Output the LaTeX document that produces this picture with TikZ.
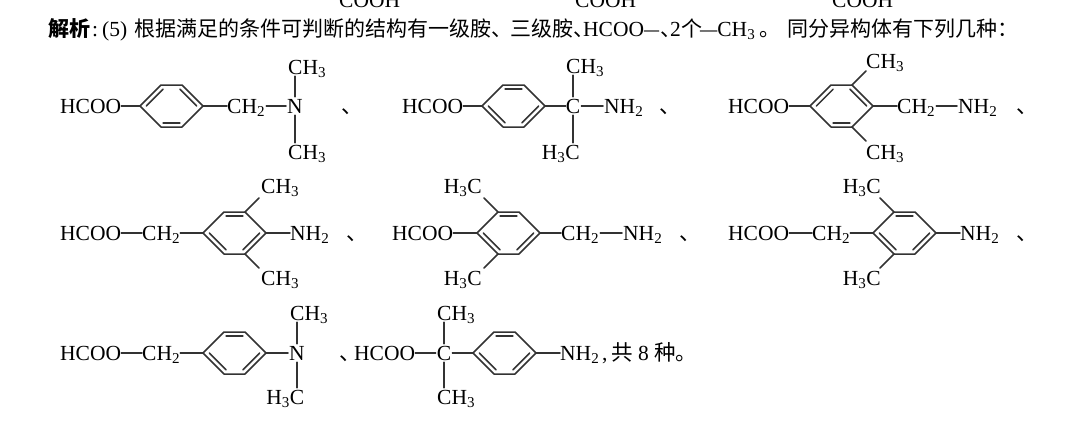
\documentclass[tikz,border=0pt]{standalone}
\usepackage{fontspec}
\setmainfont{Liberation Serif}
\newfontfamily\cjk{Noto Sans CJK SC}
\usetikzlibrary{calc}
\newcommand{\chemf}{\fontsize{21.5}{26}\selectfont}
\newcommand{\benzring}[3]{%
  \coordinate (#1L) at (#2,#3);
  \coordinate (#1TL) at (#2+21,#3-21);
  \coordinate (#1TR) at (#2+42,#3-21);
  \coordinate (#1R) at (#2+63,#3);
  \coordinate (#1BR) at (#2+42,#3+21);
  \coordinate (#1BL) at (#2+21,#3+21);
  \coordinate (#1ctr) at (#2+31.5,#3);
  \draw[bond] (#1L) -- (#1TL) -- (#1TR) -- (#1R) -- (#1BR) -- (#1BL) -- cycle;}
\newcommand{\innerbond}[3]{\draw[bond] ($(#1ctr)!0.8!(#1#2)$) -- ($(#1ctr)!0.8!(#1#3)$);}
\newcommand{\kekA}[1]{\innerbond{#1}{L}{TL}\innerbond{#1}{TR}{R}\innerbond{#1}{BR}{BL}}
\newcommand{\kekB}[1]{\innerbond{#1}{TL}{TR}\innerbond{#1}{BL}{L}\innerbond{#1}{BR}{R}}
\begin{document}
\begin{tikzpicture}[x=1pt,y=-1pt,
  bond/.style={line width=1.5pt, draw=black!80, line join=round, line cap=round},
  vb/.style={bond, shorten <=2pt, shorten >=2pt},
  atom/.style={inner sep=0pt, text height=14pt, text depth=0pt, font=\chemf},
  txt/.style={inner sep=0pt, anchor=base west, font=\chemf},
  cjkt/.style={inner sep=0pt, anchor=base west, font=\fontsize{21}{26}\selectfont\cjk}]
\useasboundingbox (0,0) rectangle (1068,439);
\fill[white] (0,0) rectangle (1068,439);
% cut-off text at the top edge
\node[txt] (cut1) at (339,7) {COOH};
\node[txt] (cut2) at (575,7) {COOH};
\node[txt] (cut3) at (832,7) {COOH};
% heading line
\node[cjkt] (t1) at (48,36) {\bfseries 解析};
\node[txt] (t2) at (92,36) {:};
\node[txt] (t3) at (102,36) {(5)};
\node[cjkt] (t4) at (134,36) {根据满足的条件可判断的结构有一级胺、};
\node[cjkt] (t4b) at (510,36) {三级胺、};
\node[txt] (t5) at (583,36) {HCOO\scalebox{0.7}[1]{—}};
\node[cjkt] (t6) at (660,36) {、};
\node[txt] (t7) at (670,36) {2};
\node[cjkt] (t8) at (681,36) {个};
\node[txt] (t9) at (700,36) {\scalebox{0.8}[1]{—}CH\textsubscript{3}};
\node[cjkt] (t10) at (759,36) {。};
\node[cjkt] (t11) at (787,36) {同分异构体有下列几种：};
% ---------- row 1 ----------
% S1
\node[atom,anchor=west] (h1) at (60,106) {HCOO};
\benzring{a}{140}{106}\kekA{a}
\draw[bond] (h1.east) -- (aL);
\node[atom,anchor=west] (a2) at (227,106) {CH\textsubscript{2}};
\draw[bond] (aR) -- (a2.west);
\node[atom] (an) at (295,106) {N};
\draw[bond, shorten <=1pt, shorten >=1pt] (a2.east) -- (an.west);
\node[atom,anchor=west] (au) at (288,67) {CH\textsubscript{3}};
\node[atom,anchor=west] (ad) at (288,152) {CH\textsubscript{3}};
\draw[vb] (an.north) -- (an.north |- au.south);
\draw[vb] (an.south) -- (an.south |- ad.north);
\node[atom,anchor=west] (s1) at (341,106) {\cjk 、};
% S2
\node[atom,anchor=west] (h2) at (402,106) {HCOO};
\benzring{b}{482}{106}\kekB{b}
\draw[bond] (h2.east) -- (bL);
\node[atom] (bC) at (573,106) {C};
\draw[bond] (bR) -- (bC.west);
\node[atom,anchor=west] (bu) at (566,66) {CH\textsubscript{3}};
\node[atom,anchor=east] (bd) at (580,152) {H\textsubscript{3}C};
\draw[vb] (bC.north) -- (bC.north |- bu.south);
\draw[vb] (bC.south) -- (bC.south |- bd.north);
\node[atom,anchor=west] (bn) at (604,106) {NH\textsubscript{2}};
\draw[bond, shorten <=1pt, shorten >=1pt] (bC.east) -- (bn.west);
\node[atom,anchor=west] (s2) at (659,106) {\cjk 、};
% S3
\node[atom,anchor=west] (h3) at (728,106) {HCOO};
\benzring{c}{810}{106}\kekA{c}
\draw[bond] (h3.east) -- (cL);
\node[atom,anchor=west] (cu) at (866,61) {CH\textsubscript{3}};
\node[atom,anchor=west] (cd) at (866,152) {CH\textsubscript{3}};
\coordinate (cue) at (866,71);
\coordinate (cde) at (866,141);
\draw[bond] (cTR) -- (cue);
\draw[bond] (cBR) -- (cde);
\node[atom,anchor=west] (c2) at (897,106) {CH\textsubscript{2}};
\draw[bond] (cR) -- (c2.west);
\node[atom,anchor=west] (cn) at (958,106) {NH\textsubscript{2}};
\draw[bond, shorten <=1pt, shorten >=1pt] (c2.east) -- (cn.west);
\node[atom,anchor=west] (s3) at (1016,106) {\cjk 、};
% ---------- row 2 ----------
% S4
\node[atom,anchor=west] (h4) at (60,233) {HCOO};
\node[atom,anchor=west] (d2) at (142,233) {CH\textsubscript{2}};
\draw[bond] (h4.east) -- (d2.west);
\benzring{d}{203}{233}\kekB{d}
\draw[bond] (d2.east) -- (dL);
\node[atom,anchor=west] (du) at (261,186) {CH\textsubscript{3}};
\node[atom,anchor=west] (dd) at (261,278) {CH\textsubscript{3}};
\coordinate (due) at (259,198);
\coordinate (dde) at (259,268);
\draw[bond] (dTR) -- (due);
\draw[bond] (dBR) -- (dde);
\node[atom,anchor=west] (dn) at (290,233) {NH\textsubscript{2}};
\draw[bond] (dR) -- (dn.west);
\node[atom,anchor=west] (s4) at (346,233) {\cjk 、};
% S5
\node[atom,anchor=west] (h5) at (392,233) {HCOO};
\benzring{e}{477}{233}\kekB{e}
\draw[bond] (h5.east) -- (eL);
\node[atom,anchor=east] (eu) at (482,186) {H\textsubscript{3}C};
\node[atom,anchor=east] (ed) at (482,278) {H\textsubscript{3}C};
\coordinate (eue) at (484,198);
\coordinate (ede) at (484,268);
\draw[bond] (eTL) -- (eue);
\draw[bond] (eBL) -- (ede);
\node[atom,anchor=west] (e2) at (561,233) {CH\textsubscript{2}};
\draw[bond] (eR) -- (e2.west);
\node[atom,anchor=west] (en) at (623,233) {NH\textsubscript{2}};
\draw[bond, shorten <=1pt, shorten >=1pt] (e2.east) -- (en.west);
\node[atom,anchor=west] (s5) at (679,233) {\cjk 、};
% S6
\node[atom,anchor=west] (h6) at (728,233) {HCOO};
\node[atom,anchor=west] (f2) at (812,233) {CH\textsubscript{2}};
\draw[bond] (h6.east) -- (f2.west);
\benzring{f}{873}{233}\kekB{f}
\draw[bond] (f2.east) -- (fL);
\node[atom,anchor=east] (fu) at (881,186) {H\textsubscript{3}C};
\node[atom,anchor=east] (fd) at (881,278) {H\textsubscript{3}C};
\coordinate (fue) at (880,198);
\coordinate (fde) at (880,268);
\draw[bond] (fTL) -- (fue);
\draw[bond] (fBL) -- (fde);
\node[atom,anchor=west] (fn) at (960,233) {NH\textsubscript{2}};
\draw[bond] (fR) -- (fn.west);
\node[atom,anchor=west] (s6) at (1016,233) {\cjk 、};
% ---------- row 3 ----------
% S7
\node[atom,anchor=west] (h7) at (60,353) {HCOO};
\node[atom,anchor=west] (g2) at (142,353) {CH\textsubscript{2}};
\draw[bond] (h7.east) -- (g2.west);
\benzring{g}{203}{353}\kekB{g}
\draw[bond] (g2.east) -- (gL);
\node[atom] (gn) at (297,353) {N};
\draw[bond, shorten >=1pt] (gR) -- (gn.west);
\node[atom,anchor=west] (gu) at (290,313) {CH\textsubscript{3}};
\node[atom,anchor=east] (gd) at (304.5,397) {H\textsubscript{3}C};
\draw[vb] (gn.north) -- (gn.north |- gu.south);
\draw[vb] (gn.south) -- (gn.south |- gd.north);
\node[atom,anchor=west] (s7) at (339,353) {\cjk 、};
% S8
\node[atom,anchor=west] (h8) at (354,353) {HCOO};
\node[atom] (kC) at (444,353) {C};
\draw[bond, shorten >=1pt] (h8.east) -- (kC.west);
\node[atom,anchor=west] (ku) at (437,313) {CH\textsubscript{3}};
\node[atom,anchor=west] (kd) at (437,397) {CH\textsubscript{3}};
\draw[vb] (kC.north) -- (kC.north |- ku.south);
\draw[vb] (kC.south) -- (kC.south |- kd.north);
\benzring{k}{473}{353}\kekB{k}
\draw[bond, shorten <=1pt] (kC.east) -- (kL);
\node[atom,anchor=west] (kn) at (560,353) {NH\textsubscript{2}};
\draw[bond] (kR) -- (kn.west);
\node[atom,anchor=west] (tail) at (602,353) {,\,{\cjk 共} 8 {\cjk 种。}};
\end{tikzpicture}
\end{document}
